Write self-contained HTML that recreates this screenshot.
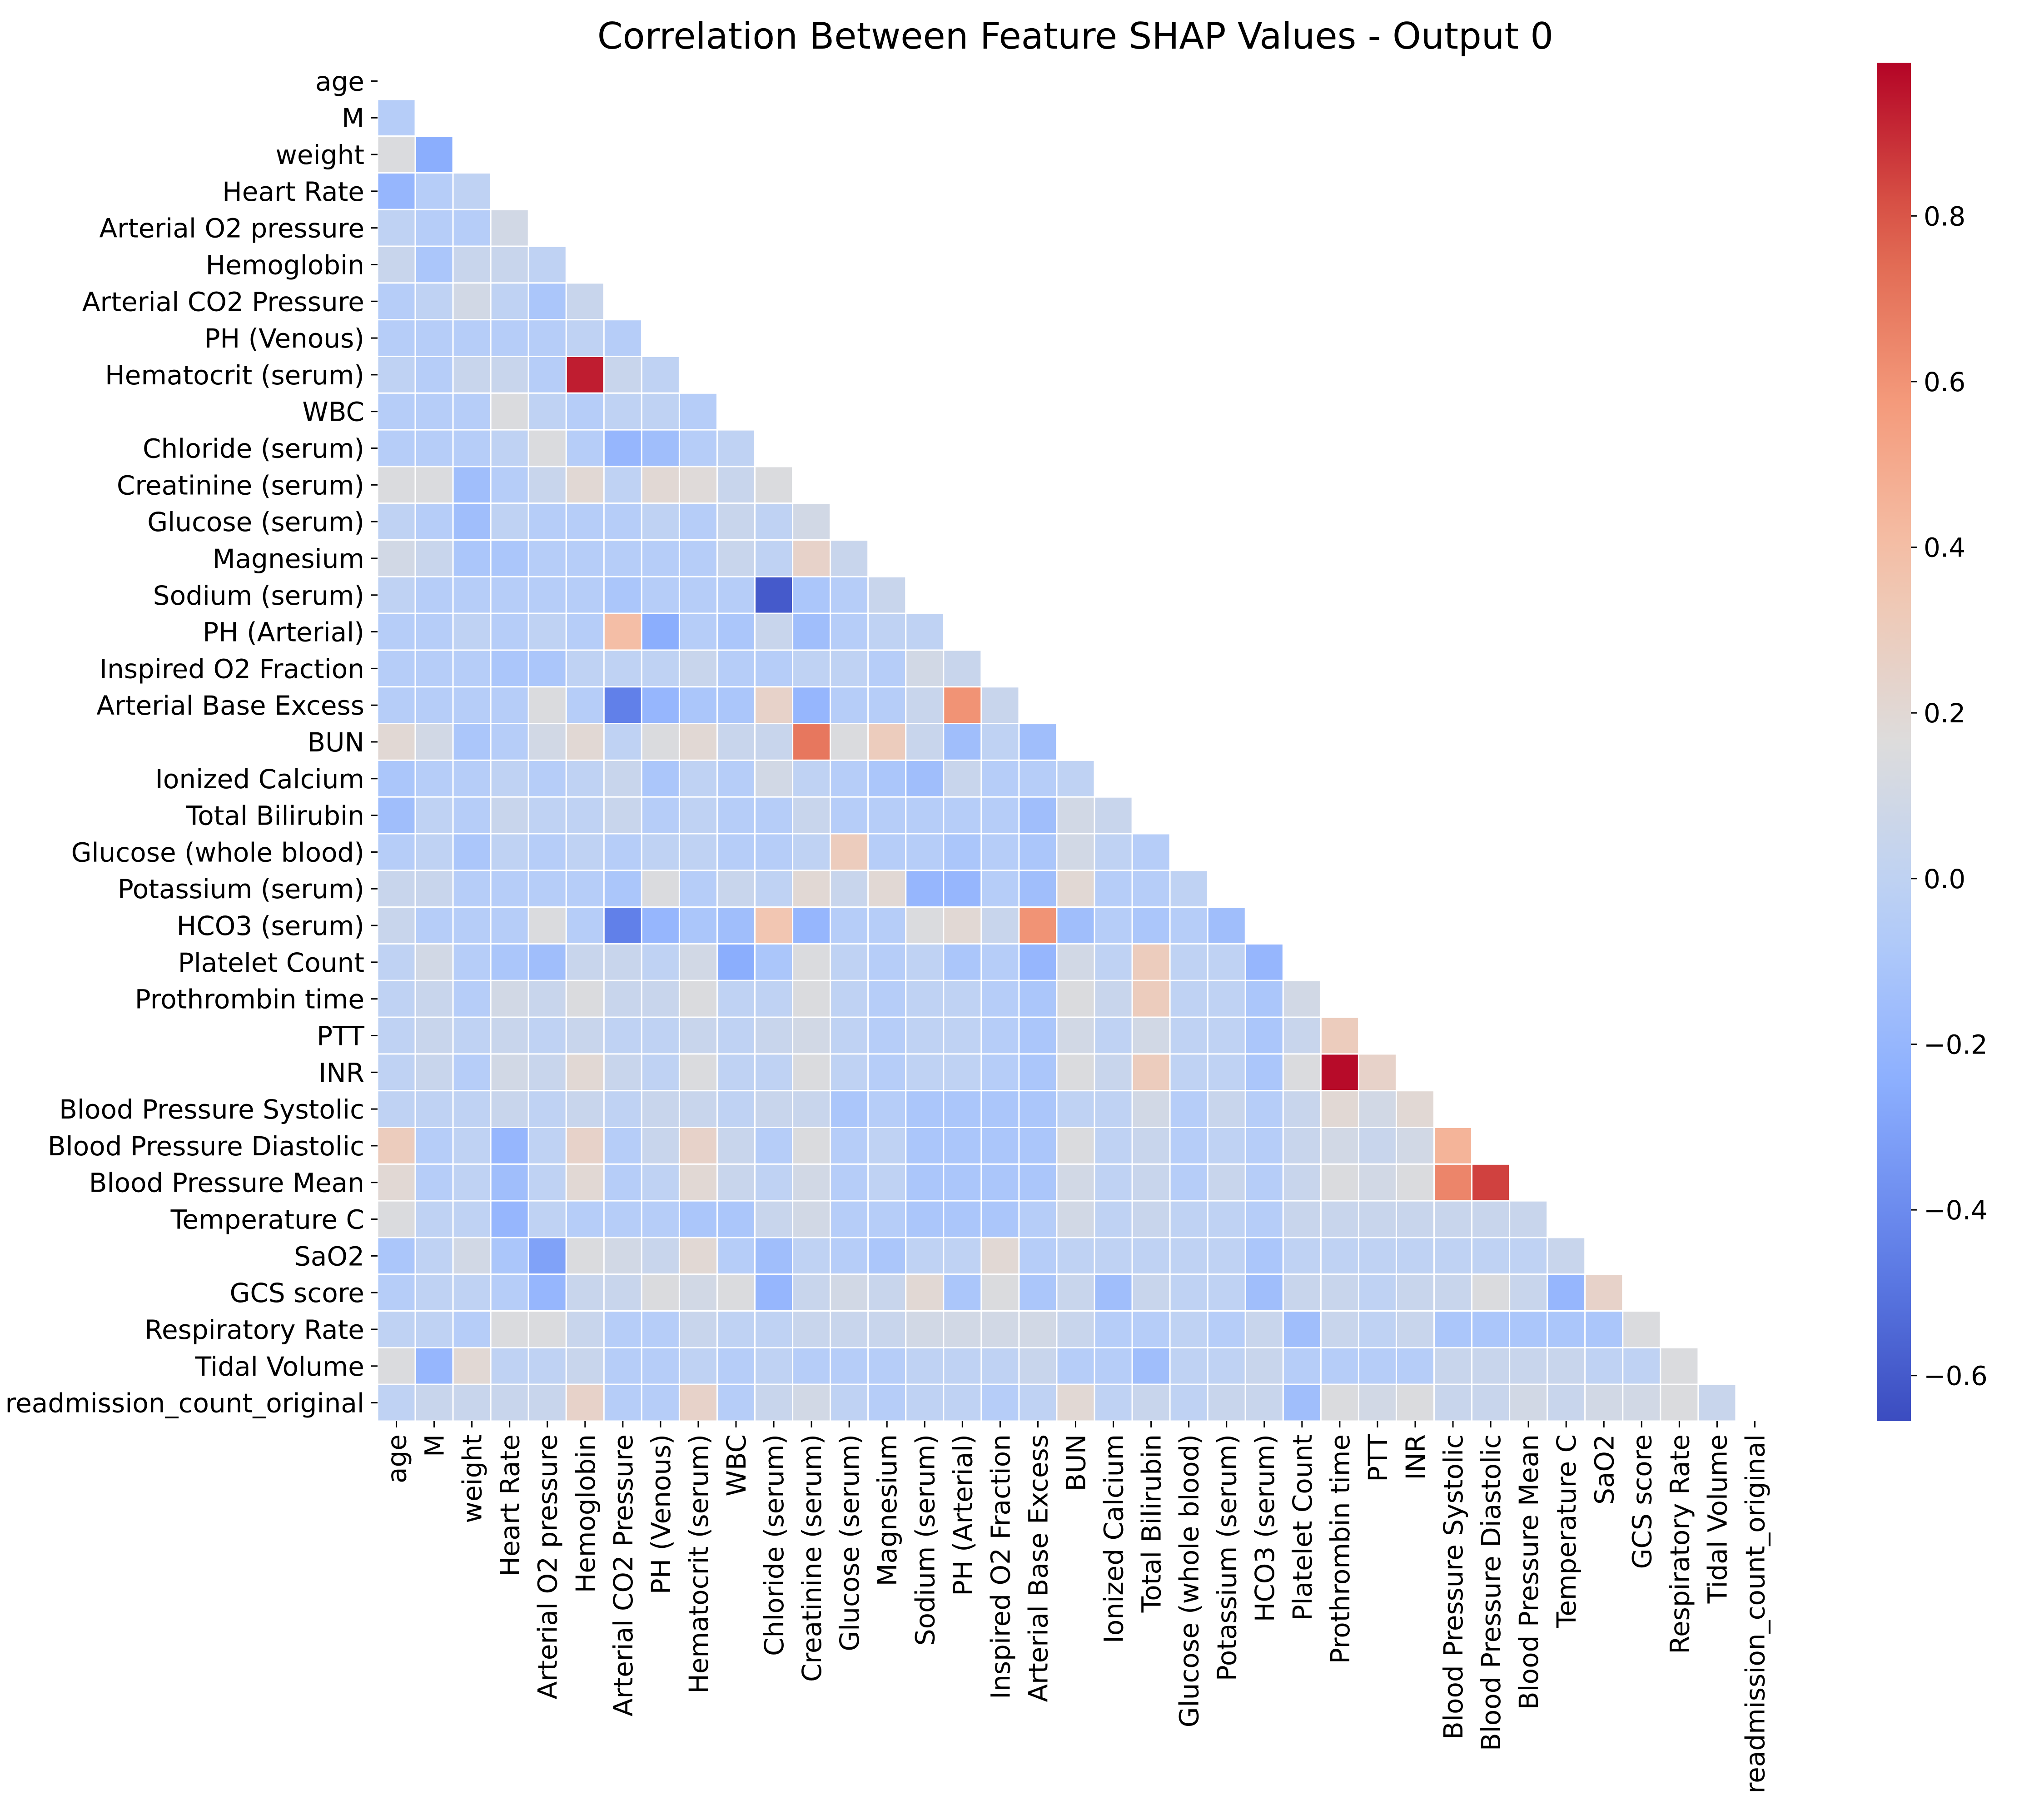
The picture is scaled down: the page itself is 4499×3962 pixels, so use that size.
<!DOCTYPE html>
<html><head><meta charset="utf-8"><style>body{margin:0;background:#fff}svg{display:block}text{font-family:"DejaVu Sans","Liberation Sans",sans-serif;fill:#000}</style></head>
<body>
<svg id="chart" width="4499" height="3962" viewBox="0 0 4499 3962" xmlns="http://www.w3.org/2000/svg">
<text x="2367" y="107" font-size="80" text-anchor="middle">Correlation Between Feature SHAP Values - Output 0</text>
<g id="cells"></g>
<g id="ylab"></g>
<g id="xlab"></g>
<defs><linearGradient id="cg" x1="0" y1="1" x2="0" y2="0"></linearGradient></defs>
<rect x="4132" y="138" width="74" height="2990" fill="url(#cg)"/>
<g id="cbt"></g>
</svg>
<script>
const features=["age","M","weight","Heart Rate","Arterial O2 pressure","Hemoglobin","Arterial CO2 Pressure","PH (Venous)","Hematocrit (serum)","WBC","Chloride (serum)","Creatinine (serum)","Glucose (serum)","Magnesium","Sodium (serum)","PH (Arterial)","Inspired O2 Fraction","Arterial Base Excess","BUN","Ionized Calcium","Total Bilirubin","Glucose (whole blood)","Potassium (serum)","HCO3 (serum)","Platelet Count","Prothrombin time","PTT","INR","Blood Pressure Systolic","Blood Pressure Diastolic","Blood Pressure Mean","Temperature C","SaO2","GCS score","Respiratory Rate","Tidal Volume","readmission_count_original"];
const corrRows=[
[],
[-0.05],
[0.15,-0.25],
[-0.2,-0.05,0.0],
[0.0,-0.05,-0.05,0.1],
[0.05,-0.1,0.05,0.05,0.0],
[-0.05,0.0,0.1,0.0,-0.1,0.05],
[-0.05,-0.05,-0.05,-0.05,-0.05,0.0,-0.05],
[0.0,-0.05,0.05,0.05,-0.05,0.93,0.05,0.0],
[-0.05,-0.05,-0.05,0.15,0.0,-0.05,0.0,0.0,-0.05],
[-0.05,-0.05,-0.05,0.0,0.15,-0.05,-0.2,-0.15,-0.05,0.0],
[0.15,0.15,-0.15,-0.05,0.05,0.2,0.0,0.2,0.18,0.05,0.15],
[0.0,-0.05,-0.15,0.0,-0.05,-0.05,-0.05,0.0,-0.05,0.05,0.0,0.1],
[0.1,0.05,-0.1,-0.1,-0.05,-0.05,-0.05,-0.05,-0.05,0.05,0.0,0.25,0.05],
[0.0,-0.05,-0.05,-0.05,-0.05,-0.05,-0.1,-0.05,-0.05,-0.05,-0.6,-0.1,-0.05,0.05],
[-0.05,-0.05,0.0,-0.05,0.0,-0.05,0.4,-0.25,-0.05,-0.1,0.05,-0.15,-0.05,0.0,0.0],
[-0.05,-0.05,-0.05,-0.1,-0.1,0.0,0.0,0.0,0.05,-0.05,-0.05,0.0,0.0,-0.05,0.1,0.05],
[-0.05,-0.05,-0.05,-0.05,0.15,-0.05,-0.45,-0.2,-0.1,-0.1,0.25,-0.2,-0.05,-0.05,0.05,0.6,0.05],
[0.2,0.1,-0.1,-0.05,0.1,0.2,0.0,0.15,0.2,0.05,0.05,0.7,0.15,0.3,0.05,-0.15,0.0,-0.15],
[-0.1,-0.05,-0.05,0.0,-0.05,0.0,0.05,-0.1,0.0,-0.05,0.1,0.0,-0.05,-0.1,-0.15,0.05,-0.05,-0.05,0.0],
[-0.15,0.0,-0.05,0.05,0.0,0.0,0.05,-0.05,0.0,-0.05,-0.05,0.05,-0.05,-0.05,-0.05,-0.05,-0.05,-0.15,0.1,0.05],
[-0.05,0.0,-0.1,0.0,-0.05,0.0,-0.05,0.0,0.0,-0.05,-0.05,0.0,0.3,-0.05,-0.05,-0.1,-0.05,-0.1,0.1,0.0,-0.05],
[0.05,0.05,-0.05,-0.05,-0.05,-0.05,-0.1,0.15,-0.05,0.05,0.0,0.2,0.05,0.2,-0.2,-0.2,-0.05,-0.15,0.2,-0.05,-0.05,0.0],
[0.05,-0.05,-0.05,-0.05,0.15,-0.05,-0.45,-0.2,-0.1,-0.15,0.35,-0.2,-0.05,-0.05,0.15,0.2,0.05,0.6,-0.15,-0.05,-0.1,-0.05,-0.15],
[0.0,0.1,-0.05,-0.1,-0.15,0.05,0.05,0.0,0.1,-0.25,-0.1,0.15,0.0,-0.05,0.0,-0.1,-0.05,-0.2,0.1,0.0,0.3,0.0,0.0,-0.2],
[0.0,0.05,-0.05,0.1,0.05,0.15,0.05,0.05,0.15,0.0,0.0,0.15,0.0,-0.05,0.0,0.0,-0.05,-0.1,0.15,0.05,0.3,0.0,0.0,-0.1,0.1],
[0.0,0.05,0.0,0.05,0.0,0.05,0.0,0.0,0.05,0.0,0.05,0.1,0.0,-0.05,0.0,0.0,-0.05,-0.1,0.1,0.0,0.1,0.0,0.0,-0.1,0.05,0.3],
[0.0,0.05,-0.05,0.1,0.05,0.2,0.05,0.0,0.15,0.0,0.0,0.15,0.0,-0.05,0.0,0.0,-0.05,-0.1,0.15,0.05,0.3,0.0,0.0,-0.1,0.15,0.97,0.25],
[0.0,0.0,0.0,0.05,0.0,0.05,0.0,0.05,0.05,0.0,0.05,0.05,-0.1,-0.05,-0.1,-0.1,-0.1,-0.1,0.0,0.0,0.1,-0.05,0.05,-0.05,0.05,0.2,0.1,0.2],
[0.3,-0.05,0.0,-0.2,0.0,0.25,-0.05,0.05,0.25,0.05,-0.05,0.15,-0.05,0.0,-0.1,-0.1,-0.1,-0.1,0.15,0.0,0.05,-0.05,0.0,-0.05,0.05,0.1,0.05,0.1,0.45],
[0.2,-0.05,0.0,-0.15,0.0,0.2,-0.05,0.0,0.2,0.05,0.0,0.1,-0.05,0.0,-0.1,-0.1,-0.1,-0.1,0.1,0.0,0.05,-0.05,0.05,-0.05,0.05,0.15,0.1,0.15,0.65,0.85],
[0.15,0.0,0.0,-0.2,0.0,-0.05,-0.05,-0.05,-0.1,-0.1,0.05,0.1,-0.05,-0.05,-0.1,-0.1,-0.1,-0.05,0.1,0.0,0.05,0.0,0.0,-0.05,0.05,0.05,0.05,0.05,0.05,0.05,0.05],
[-0.1,0.0,0.1,-0.1,-0.3,0.15,0.1,0.05,0.2,-0.05,-0.15,0.0,-0.05,-0.1,0.0,0.0,0.2,-0.05,0.0,0.0,0.0,0.0,0.0,-0.1,0.0,0.0,0.0,0.0,0.0,0.0,0.0,0.05],
[-0.05,0.0,0.0,-0.05,-0.2,0.05,0.05,0.15,0.1,0.15,-0.2,0.05,0.1,0.05,0.2,-0.1,0.15,-0.1,0.05,-0.15,0.05,0.0,0.0,-0.15,0.05,0.05,0.0,0.05,0.05,0.15,0.05,-0.2,0.25],
[0.0,0.0,-0.05,0.15,0.15,0.05,-0.05,-0.05,0.05,0.0,0.0,0.05,0.05,0.05,0.1,0.1,0.1,0.1,0.05,-0.05,-0.05,0.0,-0.05,0.05,-0.15,0.05,0.0,0.05,-0.1,-0.1,-0.1,-0.1,-0.1,0.15],
[0.15,-0.2,0.2,0.0,0.0,0.05,-0.05,-0.05,0.0,-0.05,0.0,-0.05,-0.05,-0.05,0.0,0.0,0.0,0.05,-0.05,-0.05,-0.15,0.0,0.0,0.05,-0.05,-0.05,-0.05,-0.05,0.05,0.05,0.05,0.05,0.0,0.0,0.15],
[0.0,0.05,0.05,0.05,0.05,0.25,-0.05,-0.05,0.25,-0.05,0.05,0.1,0.0,-0.05,0.0,0.0,-0.05,0.0,0.2,0.0,0.05,0.0,0.05,0.05,-0.15,0.15,0.1,0.15,0.05,0.05,0.1,0.05,0.1,0.1,0.15,0.05]
];
const cbTicks=[-0.6,-0.4,-0.2,0.0,0.2,0.4,0.6,0.8];
const VMIN=-0.655,VMAX=0.985;
const L=831,R=3904,T=138,B=3128,n=features.length,cw=(R-L)/n,ch=(B-T)/n;
const stops=[[59,76,192],[97,128,233],[140,175,254],[184,207,248],[221,220,220],[244,196,173],[244,154,123],[222,96,76],[180,4,38]];
function cmap(v){let t=Math.max(0,Math.min(1,(v-VMIN)/(VMAX-VMIN)))*8;let i=Math.min(7,Math.floor(t)),f=t-i;const a=stops[i],b=stops[i+1];return `rgb(${a.map((c,k)=>Math.round(c+(b[k]-c)*f)).join(',')})`;}
const NS="http://www.w3.org/2000/svg";
function mk(tag,attrs,parent){const e=document.createElementNS(NS,tag);for(const k in attrs)e.setAttribute(k,attrs[k]);parent.appendChild(e);return e;}
const cells=document.getElementById('cells'),yl=document.getElementById('ylab'),xl=document.getElementById('xlab');
corrRows.forEach((row,i)=>{row.forEach((v,j)=>{if(j>=i)return;const r=mk('rect',{x:L+j*cw,y:T+i*ch,width:cw,height:ch,fill:cmap(v),stroke:'#fff','stroke-width':3},cells);

});});
features.forEach((f,i)=>{const cy=T+(i+0.5)*ch;
const tk=mk('line',{x1:L-14,x2:L,y1:cy,y2:cy,stroke:'#000','stroke-width':3},yl);


const t=mk('text',{x:L-29,y:cy+21,'font-size':58,'text-anchor':'end'},yl);t.textContent=f;


const cx=L+(i+0.5)*cw;
const tk2=mk('line',{x1:cx,x2:cx,y1:B,y2:B+14,stroke:'#000','stroke-width':3},xl);


const t2=mk('text',{x:0,y:0,'font-size':58,'text-anchor':'end',transform:`translate(${cx+21},${B+29}) rotate(-90)`},xl);t2.textContent=f;

});
const g=document.getElementById('cg');for(let k=0;k<=20;k++){const v=VMIN+(VMAX-VMIN)*k/20;mk('stop',{offset:k/20,'stop-color':cmap(v)},g);}
const cbt=document.getElementById('cbt');
cbTicks.forEach(v=>{const y=B-(v-VMIN)/(VMAX-VMIN)*(B-T);
const l=mk('line',{x1:4206,x2:4220,y1:y,y2:y,stroke:'#000','stroke-width':3},cbt);


const t=mk('text',{x:4234,y:y+21,'font-size':58},cbt);t.textContent=(v<0?'\u2212':'')+Math.abs(v).toFixed(1);

});
</script>
</body></html>
